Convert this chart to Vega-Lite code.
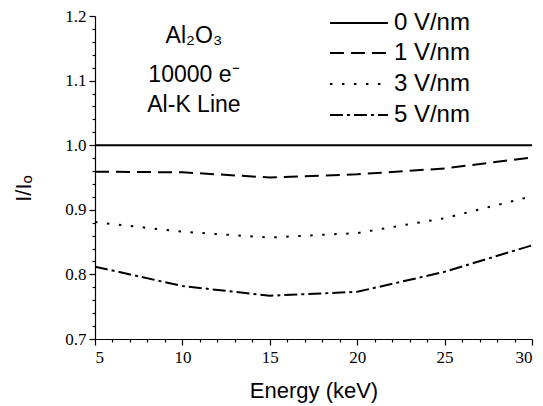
{
  "$schema": "https://vega.github.io/schema/vega-lite/v6.json",
  "width": 437,
  "height": 323,
  "autosize": "none",
  "padding": {"left": 95, "top": 16, "right": 11, "bottom": 67},
  "background": "white",
  "config": {
    "view": {"stroke": null}
  },
  "datasets": {
    "curves": [
      {"energy": 5, "ratio": 1.0, "series": "0 V/nm"},
      {"energy": 10, "ratio": 1.0, "series": "0 V/nm"},
      {"energy": 15, "ratio": 1.0, "series": "0 V/nm"},
      {"energy": 20, "ratio": 1.0, "series": "0 V/nm"},
      {"energy": 25, "ratio": 1.0, "series": "0 V/nm"},
      {"energy": 30, "ratio": 1.0, "series": "0 V/nm"},
      {"energy": 5, "ratio": 0.959, "series": "1 V/nm"},
      {"energy": 10, "ratio": 0.958, "series": "1 V/nm"},
      {"energy": 15, "ratio": 0.950, "series": "1 V/nm"},
      {"energy": 20, "ratio": 0.955, "series": "1 V/nm"},
      {"energy": 25, "ratio": 0.964, "series": "1 V/nm"},
      {"energy": 30, "ratio": 0.981, "series": "1 V/nm"},
      {"energy": 5, "ratio": 0.881, "series": "3 V/nm"},
      {"energy": 10, "ratio": 0.866, "series": "3 V/nm"},
      {"energy": 15, "ratio": 0.857, "series": "3 V/nm"},
      {"energy": 20, "ratio": 0.864, "series": "3 V/nm"},
      {"energy": 25, "ratio": 0.887, "series": "3 V/nm"},
      {"energy": 30, "ratio": 0.921, "series": "3 V/nm"},
      {"energy": 5, "ratio": 0.812, "series": "5 V/nm"},
      {"energy": 10, "ratio": 0.782, "series": "5 V/nm"},
      {"energy": 15, "ratio": 0.767, "series": "5 V/nm"},
      {"energy": 20, "ratio": 0.773, "series": "5 V/nm"},
      {"energy": 25, "ratio": 0.804, "series": "5 V/nm"},
      {"energy": 30, "ratio": 0.845, "series": "5 V/nm"}
    ],
    "legendRows": [
      {"series": "0 V/nm", "x1": 18.44, "x2": 21.76, "xt": 22.1, "y": 1.1892},
      {"series": "1 V/nm", "x1": 18.44, "x2": 21.76, "xt": 22.1, "y": 1.1427},
      {"series": "3 V/nm", "x1": 18.44, "x2": 21.76, "xt": 22.1, "y": 1.0947},
      {"series": "5 V/nm", "x1": 18.44, "x2": 21.76, "xt": 22.1, "y": 1.0467}
    ],
    "notes": [
      {"label": "Al₂O₃", "x": 10.66, "y": 1.1582},
      {"label": "10000 e⁻", "x": 10.66, "y": 1.0983},
      {"label": "Al-K Line", "x": 10.66, "y": 1.0519}
    ]
  },
  "layer": [
    {
      "data": {"name": "legendRows"},
      "mark": {"type": "rule", "color": "black", "strokeWidth": 2},
      "encoding": {
        "x": {"field": "x1", "type": "quantitative", "scale": {"domain": [5, 30], "nice": false},
          "axis": {"orient": "bottom", "title": null, "labels": false, "domain": false, "grid": false, "tickColor": "black", "tickWidth": 1.2, "tickSize": 3,
            "values": [6, 7, 8, 9, 11, 12, 13, 14, 16, 17, 18, 19, 21, 22, 23, 24, 26, 27, 28, 29]}},
        "x2": {"field": "x2"},
        "y": {"field": "y", "type": "quantitative", "scale": {"domain": [0.7, 1.2], "nice": false, "zero": false},
          "axis": {"orient": "left", "title": null, "labels": false, "domain": false, "grid": false, "tickColor": "black", "tickWidth": 1.2, "tickSize": 3,
            "values": [0.72, 0.74, 0.76, 0.78, 0.82, 0.84, 0.86, 0.88, 0.92, 0.94, 0.96, 0.98, 1.02, 1.04, 1.06, 1.08, 1.12, 1.14, 1.16, 1.18]}},
        "strokeDash": {"field": "series", "type": "nominal", "scale": {"domain": ["0 V/nm", "1 V/nm", "3 V/nm", "5 V/nm"], "range": [[1, 0], [14, 7], [2.5, 9.5], [13, 4, 3, 4]]}, "legend": null}
      }
    },
    {
      "data": {"name": "curves"},
      "mark": {"type": "line", "color": "black", "strokeWidth": 2, "clip": true},
      "encoding": {
        "x": {"field": "energy", "type": "quantitative",
          "axis": {"orient": "bottom", "title": "Energy (keV)", "values": [5, 10, 15, 20, 25, 30], "grid": false, "offset": 0,
            "domainColor": "black", "domainWidth": 1.2, "tickColor": "black", "tickWidth": 1.2, "tickSize": 6,
            "labelFont": "Liberation Serif", "labelFontSize": 17, "labelColor": "black", "labelOverlap": false, "labelPadding": 4,
            "titleFont": "Liberation Sans", "titleFontSize": 22, "titleFontWeight": "normal", "titleColor": "black",
            "titleY": 58, "titleBaseline": "alphabetic"}},
        "y": {"field": "ratio", "type": "quantitative",
          "axis": {"orient": "left", "title": "I/Iₒ", "values": [0.7, 0.8, 0.9, 1.0, 1.1, 1.2], "format": ".1f", "grid": false, "offset": 0,
            "domainColor": "black", "domainWidth": 1.2, "tickColor": "black", "tickWidth": 1.2, "tickSize": 6,
            "labelFont": "Liberation Serif", "labelFontSize": 17, "labelColor": "black", "labelOverlap": false, "labelPadding": 3,
            "titleFont": "Liberation Sans", "titleFontSize": 22, "titleFontWeight": "normal", "titleColor": "black",
            "titleX": -72, "titleY": 172, "titleAngle": -90, "titleBaseline": "middle", "titleAlign": "center"}},
        "strokeDash": {"field": "series", "type": "nominal", "legend": null}
      }
    },
    {
      "data": {"name": "legendRows"},
      "mark": {"type": "text", "align": "left", "baseline": "middle", "font": "Liberation Sans", "fontSize": 24, "color": "black"},
      "encoding": {
        "x": {"field": "xt", "type": "quantitative", "axis": null},
        "y": {"field": "y", "type": "quantitative", "axis": null},
        "text": {"field": "series"}
      }
    },
    {
      "data": {"name": "notes"},
      "mark": {"type": "text", "align": "center", "baseline": "alphabetic", "font": "Liberation Sans", "fontSize": 23, "color": "black"},
      "encoding": {
        "x": {"field": "x", "type": "quantitative", "axis": null},
        "y": {"field": "y", "type": "quantitative", "axis": null},
        "text": {"field": "label"}
      }
    }
  ],
  "resolve": {"axis": {"x": "independent", "y": "independent"}}
}
